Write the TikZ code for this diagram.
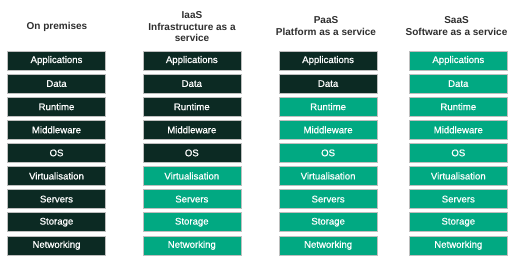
\documentclass[tikz,border=0pt]{standalone}
\usepackage{fontspec}
\setmainfont{Liberation Sans}
\newfontfamily\boxfont[FakeBold=0.7]{Liberation Sans}
\definecolor{darkbox}{HTML}{0C2A23}
\definecolor{tealbox}{HTML}{01A982}
\definecolor{headtxt}{HTML}{2E2E2E}
\tikzset{
  layer/.style={minimum width=98pt, minimum height=19pt, inner sep=0pt,
    draw=black!25, line width=0.5pt, text=white,
    font=\boxfont\fontsize{9.6}{11}\selectfont, anchor=center},
  dk/.style={layer, fill=darkbox},
  lt/.style={layer, fill=tealbox},
  head/.style={text=headtxt, align=center, inner sep=0pt,
    font=\fontsize{10}{11.7}\selectfont\bfseries}
}
\begin{document}
\begin{tikzpicture}[x=1pt,y=-1pt]
\useasboundingbox (0,0) rectangle (518,257);
% headers
\node[head] (h1) at (57,26.7) {On premises};
\node[head] (h2) at (192,26.7) {IaaS\\Infrastructure as a\\service};
\node[head] (h3) at (326,26.2) {PaaS\\Platform as a service};
\node[head] (h4) at (456.5,26.2) {SaaS\\Software as a service};
% layers
\foreach \t [count=\i] in {Applications,Data,Runtime,Middleware,OS,Virtualisation,Servers,Storage,Networking}{
  \pgfmathsetmacro{\yy}{60.5+23.1*(\i-1)}
  \node[dk] (c1r\i) at (56.5,\yy) {\t};
  \ifnum\i<6 \node[dk] (c2r\i) at (191.8,\yy) {\t};
  \else \node[lt] (c2r\i) at (191.8,\yy) {\t}; \fi
  \ifnum\i<3 \node[dk] (c3r\i) at (328.1,\yy) {\t};
  \else \node[lt] (c3r\i) at (328.1,\yy) {\t}; \fi
  \node[lt] (c4r\i) at (458.3,\yy) {\t};
}
\end{tikzpicture}
\end{document}
